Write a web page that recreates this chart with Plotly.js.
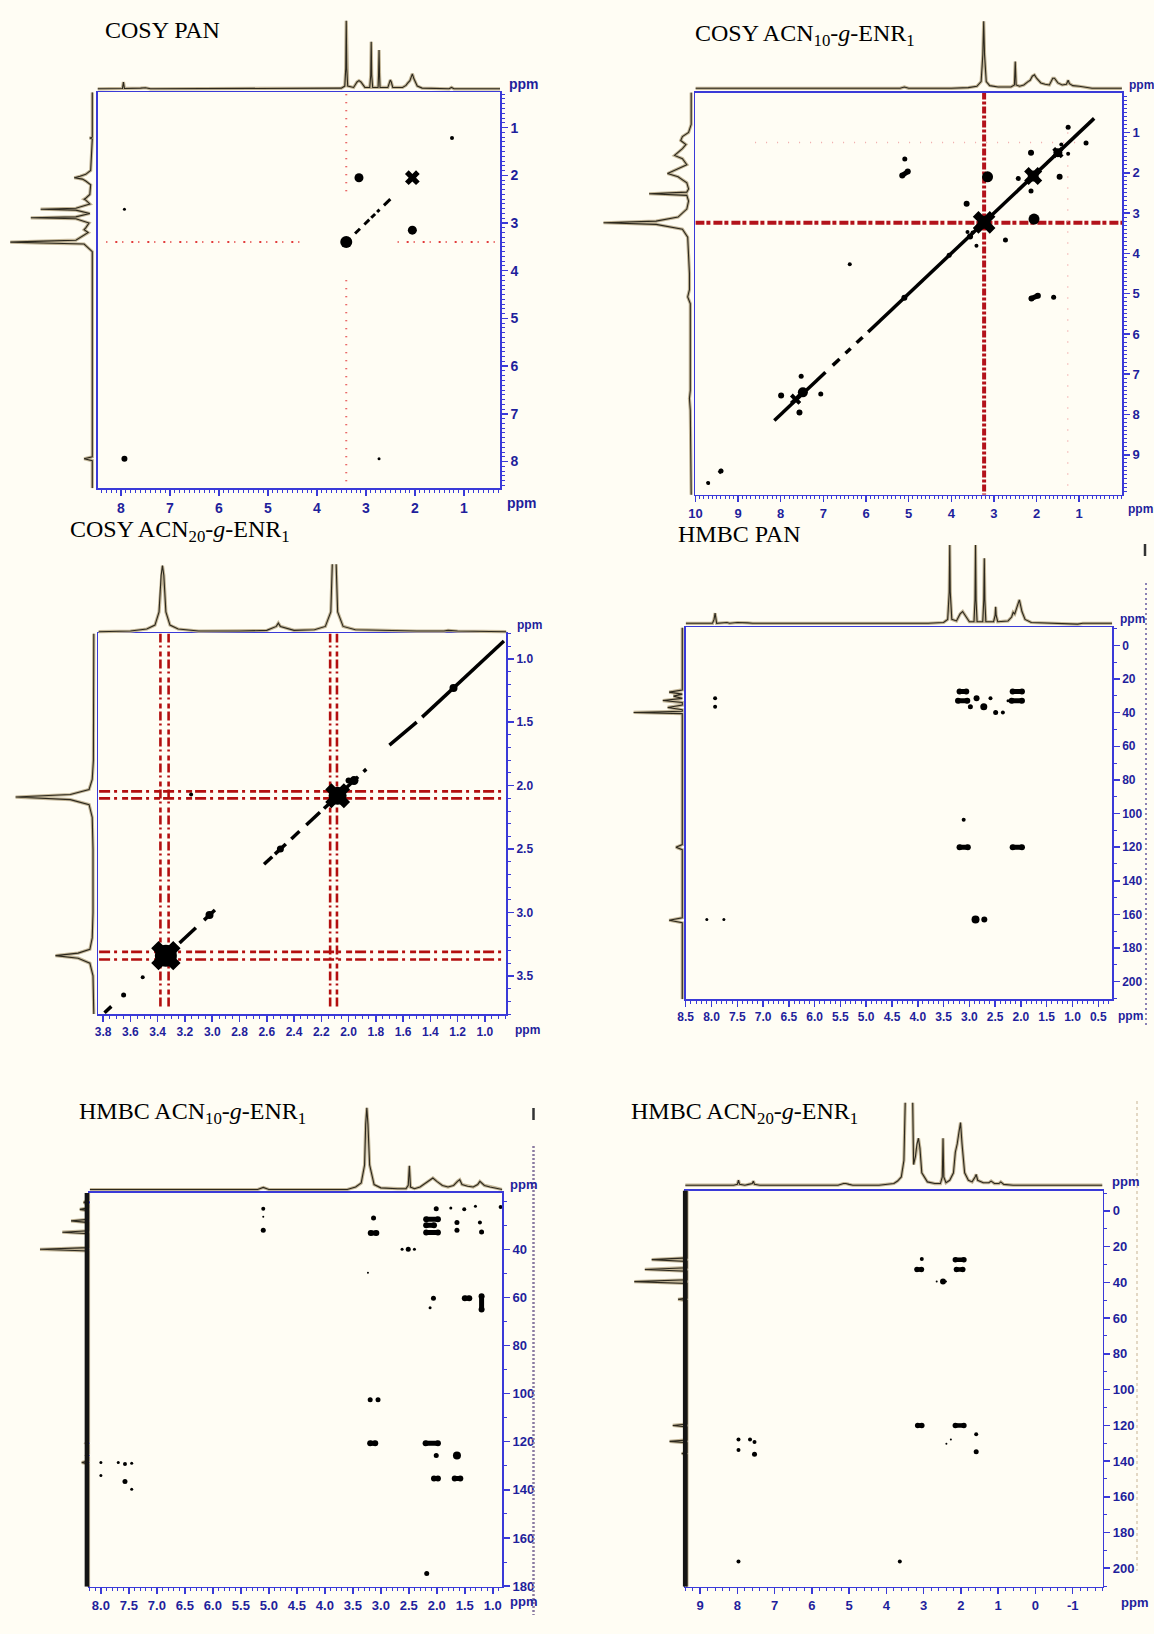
<!DOCTYPE html>
<html><head><meta charset="utf-8">
<script src="https://cdn.plot.ly/plotly-3.0.1.min.js"></script>
<style>html,body{margin:0;padding:0;background:#fffdf4;} #chart{width:1154px;height:1634px;}</style>
</head><body><div id="chart"></div>
<script>
// ---------------- DATA ----------------
const titles = ['COSY PAN', 'COSY ACN<sub>10</sub>-<i>g</i>-ENR<sub>1</sub>', 'COSY ACN<sub>20</sub>-<i>g</i>-ENR<sub>1</sub>',
  'HMBC PAN', 'HMBC ACN<sub>10</sub>-<i>g</i>-ENR<sub>1</sub>', 'HMBC ACN<sub>20</sub>-<i>g</i>-ENR<sub>1</sub>'];

// Tick labels
const p1XTicks = [8, 7, 6, 5, 4, 3, 2, 1];
const p1YTicks = [1, 2, 3, 4, 5, 6, 7, 8];
const p2XTicks = [10, 9, 8, 7, 6, 5, 4, 3, 2, 1];
const p2YTicks = [1, 2, 3, 4, 5, 6, 7, 8, 9];
const p3XTicks = [3.8, 3.6, 3.4, 3.2, 3.0, 2.8, 2.6, 2.4, 2.2, 2.0, 1.8, 1.6, 1.4, 1.2, 1.0];
const p3YTicks = [1.0, 1.5, 2.0, 2.5, 3.0, 3.5];
const p4XTicks = [8.5, 8.0, 7.5, 7.0, 6.5, 6.0, 5.5, 5.0, 4.5, 4.0, 3.5, 3.0, 2.5, 2.0, 1.5, 1.0, 0.5];
const p4YTicks = [0, 20, 40, 60, 80, 100, 120, 140, 160, 180, 200];
const p5XTicks = [8.0, 7.5, 7.0, 6.5, 6.0, 5.5, 5.0, 4.5, 4.0, 3.5, 3.0, 2.5, 2.0, 1.5, 1.0];
const p5YTicks = [40, 60, 80, 100, 120, 140, 160, 180];
const p6XTicks = [9, 8, 7, 6, 5, 4, 3, 2, 1, 0, -1];
const p6YTicks = [0, 20, 40, 60, 80, 100, 120, 140, 160, 180, 200];

// ---- Panel 1: COSY PAN ----
const p1TopPpm = [8.48, 8.0, 7.97, 7.95, 7.93, 7.6, 7.5, 7.4, 3.8, 3.5, 3.43, 3.41, 3.40, 3.39, 3.37, 3.25, 3.18, 3.14, 3.10, 3.02, 2.92, 2.90, 2.89, 2.88, 2.86, 2.75, 2.74, 2.73, 2.72, 2.71, 2.55, 2.52, 2.50, 2.48, 2.45, 2.25, 2.18, 2.15, 2.10, 2.05, 2.02, 1.95, 1.85, 1.30, 1.25, 1.20, 0.26];
const p1TopInt = [0, 0, 0.005, 0.1, 0.005, 0.01, 0.015, 0, 0, 0.01, 0.04, 0.3, 1.0, 0.3, 0.04, 0.02, 0.1, 0.12, 0.1, 0.02, 0.02, 0.2, 0.69, 0.2, 0.02, 0.02, 0.2, 0.57, 0.2, 0.02, 0.02, 0.1, 0.13, 0.1, 0.02, 0.02, 0.05, 0.08, 0.12, 0.22, 0.15, 0.04, 0.01, 0, 0.02, 0, 0];
const p1LeftPpm = [0.26, 1.2, 1.22, 1.24, 1.9, 1.98, 2.02, 2.05, 2.08, 2.12, 2.2, 2.4, 2.48, 2.50, 2.52, 2.6, 2.69, 2.71, 2.73, 2.8, 2.87, 2.89, 2.91, 3.0, 3.1, 3.14, 3.2, 3.36, 3.38, 3.40, 3.42, 3.44, 3.6, 7.9, 7.94, 7.98, 8.56];
const p1LeftInt = [0, 0, 0.03, 0, 0.02, 0.08, 0.15, 0.22, 0.12, 0.08, 0.02, 0.03, 0.08, 0.1, 0.08, 0.03, 0.2, 0.63, 0.2, 0.03, 0.2, 0.75, 0.2, 0.04, 0.08, 0.1, 0.05, 0.2, 0.6, 1.0, 0.6, 0.1, 0, 0, 0.1, 0, 0];
const p1PeakX = [3.14, 2.05, 3.40, 1.24, 7.93, 7.93, 2.73];
const p1PeakY = [2.05, 3.15, 3.40, 1.22, 2.71, 7.94, 7.94];
const p1PeakS = [9, 9, 12, 4, 3, 6, 3];
const p1CrossX = [2.05];
const p1CrossY = [2.05];
const p1CrossS = [13];
const p1DiagX = [3.22, 3.12, null, 3.03, 2.93, null, 2.89, 2.81, null, 2.77, 2.72, null, 2.63, 2.50];
const p1DiagY = [3.22, 3.12, null, 3.03, 2.93, null, 2.89, 2.81, null, 2.77, 2.72, null, 2.63, 2.50];
const p1BarX = [];
const p1BarY = [];
const p1NoiseVX = [3.40, 3.40, null, 3.40, 3.40];
const p1NoiseVY = [0.3, 2.45, null, 4.2, 8.56];
const p1NoiseHX = [8.3, 4.35, null, 2.35, 0.3];
const p1NoiseHY = [3.40, 3.40, null, 3.40, 3.40];

// ---- Panel 2: COSY ACN10-g-ENR1 ----
const p2TopPpm = [10, 8.0, 7.6, 7.5, 5.2, 5.1, 5.0, 4.0, 3.6, 3.4, 3.3, 3.26, 3.24, 3.22, 3.18, 3.1, 2.9, 2.6, 2.52, 2.50, 2.48, 2.4, 2.3, 2.2, 2.15, 2.1, 2.05, 2.0, 1.9, 1.8, 1.7, 1.62, 1.58, 1.5, 1.4, 1.3, 1.26, 1.23, 1.15, 1.0, 0.9, 0.85, 0.7, 0];
const p2TopInt = [0, 0, 0.005, 0, 0, 0.02, 0, 0, 0.01, 0.03, 0.1, 0.5, 1.0, 0.5, 0.1, 0.04, 0.02, 0.02, 0.05, 0.4, 0.05, 0.03, 0.05, 0.1, 0.12, 0.18, 0.2, 0.15, 0.08, 0.06, 0.05, 0.15, 0.15, 0.08, 0.05, 0.06, 0.12, 0.07, 0.04, 0.03, 0.02, 0.01, 0, 0];
const p2LeftPpm = [0, 0.8, 1.0, 1.1, 1.2, 1.3, 1.4, 1.5, 1.57, 1.65, 1.8, 1.95, 2.02, 2.1, 2.25, 2.4, 2.48, 2.52, 2.56, 2.7, 2.9, 3.1, 3.2, 3.24, 3.28, 3.4, 3.6, 4.5, 4.9, 5.08, 5.25, 7.4, 7.6, 7.9, 10];
const p2LeftInt = [0, 0, 0.03, 0.1, 0.12, 0.06, 0.1, 0.15, 0.19, 0.1, 0.05, 0.2, 0.27, 0.15, 0.05, 0.03, 0.05, 0.48, 0.05, 0.03, 0.05, 0.15, 0.4, 1.0, 0.4, 0.1, 0.04, 0.02, 0.02, 0.04, 0.01, 0.01, 0.02, 0.01, 0];
const p2PeakX = [5.09, 3.15, 2.06, 2.13, 1.46, 2.13, 2.43, 1.26, 0.84, 3.64, 2.73, 1.60, 7.99, 7.56, 7.52, 7.06, 6.38, 3.41, 3.50, 3.62, 4.05, 3.23, 2.08, 1.50, 7.48, 5.10, 1.26, 9.40, 9.70, 1.42, 3.56];
const p2PeakY = [1.66, 2.10, 3.15, 1.50, 2.10, 2.45, 2.14, 0.87, 1.26, 2.77, 3.67, 5.09, 7.53, 7.95, 7.05, 7.49, 4.27, 3.81, 3.48, 3.47, 4.05, 3.23, 2.08, 1.50, 7.45, 5.10, 1.53, 9.40, 9.70, 1.30, 3.58];
const p2PeakS = [5, 11, 11, 6, 6, 5, 5, 5, 5, 6, 5, 5, 6, 6, 5, 5, 4, 4, 4, 4, 5, 13, 11, 9, 10, 6, 4, 5, 4, 4, 6];
const p2CrossX = [3.23, 2.08, 7.65, 1.50];
const p2CrossY = [3.23, 2.08, 7.62, 1.50];
const p2CrossS = [20, 16, 10, 10];
const p2DiagX = [9.72, 9.69, null, 9.45, 9.37, null, 8.15, 6.95, null, 6.78, 6.62, null, 6.48, 6.36, null, 6.22, 6.08, null, 5.95, 0.65];
const p2DiagY = [9.72, 9.69, null, 9.45, 9.37, null, 8.15, 6.95, null, 6.78, 6.62, null, 6.48, 6.36, null, 6.22, 6.08, null, 5.95, 0.65];
const p2BarX = [5.15, 5.02, null, 2.12, 1.97];
const p2BarY = [2.07, 1.97, null, 5.12, 5.05];
const p2NoiseVX = [3.23, 3.23];
const p2NoiseVY = [0.01, 9.99];
const p2NoiseHX = [10, -0.01];
const p2NoiseHY = [3.24, 3.24];
const p2FaintX = [8.6, 1.0, null, 1.27, 1.27];
const p2FaintY = [1.25, 1.25, null, 1.0, 9.9];

// ---- Panel 3: COSY ACN20-g-ENR1 ----
const p3TopPpm = [3.835, 3.6, 3.48, 3.42, 3.39, 3.375, 3.365, 3.355, 3.34, 3.31, 3.25, 3.1, 2.8, 2.6, 2.53, 2.515, 2.50, 2.4, 2.25, 2.17, 2.13, 2.115, 2.105, 2.095, 2.08, 2.04, 1.95, 1.8, 1.5, 1.3, 1.27, 1.2, 0.842];
const p3TopInt = [0, 0.01, 0.04, 0.1, 0.3, 0.85, 1.0, 0.85, 0.3, 0.1, 0.04, 0.01, 0.01, 0.02, 0.08, 0.13, 0.08, 0.02, 0.03, 0.08, 0.3, 1.3, 1.5, 1.3, 0.3, 0.08, 0.03, 0.02, 0.01, 0.01, 0.02, 0.01, 0];
const p3LeftPpm = [0.80, 1.8, 1.95, 2.03, 2.07, 2.09, 2.11, 2.15, 2.25, 2.5, 3.0, 3.2, 3.29, 3.32, 3.34, 3.36, 3.40, 3.5, 3.80];
const p3LeftInt = [0, 0.005, 0.02, 0.06, 0.3, 1.0, 0.3, 0.06, 0.02, 0.01, 0.01, 0.02, 0.05, 0.2, 0.49, 0.2, 0.05, 0.01, 0];
const p3PeakX = [3.34, 2.08, 1.23, 3.65, 3.51, 1.96, 2.50, 3.155, 3.02, 2.0];
const p3PeakY = [3.34, 2.08, 1.23, 3.65, 3.51, 1.96, 2.50, 2.07, 3.02, 1.96];
const p3PeakS = [22, 18, 8, 5, 4, 9, 7, 4, 8, 6];
const p3CrossX = [3.34, 2.08];
const p3CrossY = [3.34, 2.08];
const p3CrossS = [26, 22];
const p3DiagX = [3.79, 3.74, null, 3.24, 3.12, null, 3.06, 2.98, null, 2.62, 2.56, null, 2.54, 2.46, null, 2.42, 2.36, null, 2.31, 2.21, null, 2.18, 1.93, null, 1.89, 1.87, null, 1.70, 1.50, null, 1.46, 0.86];
const p3DiagY = [3.79, 3.74, null, 3.24, 3.12, null, 3.06, 2.98, null, 2.62, 2.56, null, 2.54, 2.46, null, 2.42, 2.36, null, 2.31, 2.21, null, 2.18, 1.93, null, 1.89, 1.87, null, 1.68, 1.50, null, 1.46, 0.86];
const p3BarX = [];
const p3BarY = [];
const p3NoiseVX = [3.38, 3.38, null, 3.32, 3.32, null, 2.135, 2.135, null, 2.085, 2.085];
const p3NoiseVY = [0.80, 3.75, null, 0.80, 3.75, null, 0.80, 3.75, null, 0.80, 3.75];
const p3NoiseHX = [3.83, 0.85, null, 3.83, 0.85, null, 3.83, 0.85, null, 3.83, 0.85];
const p3NoiseHY = [2.045, 2.045, null, 2.10, 2.10, null, 3.31, 3.31, null, 3.37, 3.37];

// ---- Panel 4: HMBC PAN ----
const p4TopPpm = [8.5, 7.98, 7.95, 7.93, 7.9, 7.7, 7.65, 7.5, 7.3, 7.2, 3.8, 3.5, 3.42, 3.39, 3.38, 3.37, 3.34, 3.25, 3.18, 3.13, 3.08, 3.0, 2.91, 2.89, 2.88, 2.87, 2.85, 2.74, 2.72, 2.71, 2.70, 2.68, 2.53, 2.50, 2.49, 2.48, 2.45, 2.25, 2.18, 2.15, 2.12, 2.08, 2.03, 1.98, 1.92, 1.8, 1.2, 1.0, 0.9, 0.8, 0.23];
const p4TopInt = [0, 0, 0.05, 0.13, 0, 0.01, 0, 0.01, 0.005, 0, 0, 0.01, 0.05, 0.4, 1.0, 0.4, 0.05, 0.03, 0.12, 0.15, 0.1, 0.02, 0.02, 0.3, 1.0, 0.3, 0.02, 0.02, 0.3, 0.83, 0.3, 0.02, 0.02, 0.1, 0.21, 0.1, 0.02, 0.03, 0.08, 0.14, 0.12, 0.2, 0.3, 0.15, 0.05, 0.01, 0, -0.01, -0.01, 0, 0];
const p4LeftPpm = [-10.7, 26.5, 27.8, 29, 30.2, 31.5, 32.8, 34, 35.5, 36.9, 38.3, 39.2, 39.9, 40.6, 42, 118.5, 120, 121.5, 162, 163.5, 165, 210.5];
const p4LeftInt = [0, 0, 0.27, 0, 0.18, 0, 0.4, 0, 0, 0.3, 0, 0, 1.0, 0, 0, 0, 0.13, 0, 0, 0.27, 0, 0];
const p4PeakX = [2.86, 2.98, 2.72, 2.59, 2.49, 2.35, 2.25, 7.93, 7.93, 3.11, 8.09, 7.76, 2.88, 2.71];
const p4PeakY = [31.4, 36.5, 36.5, 31.4, 39.9, 39.9, 33.0, 31.4, 36.5, 103.7, 163, 163, 163, 163];
const p4PeakS = [6, 5, 7, 4, 5, 4, 3, 4, 4, 4, 3, 3, 8, 6];
const p4CrossX = [];
const p4CrossY = [];
const p4CrossS = [];
const p4DiagX = [];
const p4DiagY = [];
const p4BarX = [3.19, 3.06, null, 3.22, 3.04, null, 2.16, 1.98, null, 2.18, 1.98, null, 3.19, 3.03, null, 2.16, 1.98];
const p4BarY = [27.4, 27.4, null, 33.0, 33.0, null, 27.4, 27.4, null, 33.0, 33.0, null, 120, 120, null, 120, 120];

// ---- Panel 5: HMBC ACN10-g-ENR1 ----
const p5TopPpm = [8.2, 7.9, 7.5, 5.2, 5.1, 5.0, 3.6, 3.45, 3.35, 3.29, 3.27, 3.25, 3.23, 3.2, 3.12, 3.0, 2.7, 2.55, 2.51, 2.49, 2.47, 2.4, 2.3, 2.2, 2.12, 2.07, 2.0, 1.9, 1.8, 1.7, 1.63, 1.59, 1.55, 1.45, 1.35, 1.27, 1.23, 1.15, 1.05, 0.95, 0.83];
const p5TopInt = [0, 0, 0.005, 0, 0.025, 0, 0, 0.03, 0.08, 0.3, 0.8, 1.0, 0.8, 0.3, 0.06, 0.02, 0.01, 0.01, 0.05, 0.29, 0.03, 0.01, 0.03, 0.08, 0.11, 0.14, 0.1, 0.05, 0.03, 0.05, 0.1, 0.12, 0.06, 0.04, 0.03, 0.06, 0.1, 0.05, 0.03, 0.02, 0];
const p5LeftPpm = [16.6, 19.5, 20.5, 21.5, 22.8, 23.4, 24, 27.5, 28.2, 28.9, 32.3, 32.9, 33.5, 39.3, 40, 40.7, 119.9, 120.6, 121.3, 125, 125.7, 126.4, 127.9, 128.6, 129.3, 180.3];
const p5LeftInt = [0, 0, 0.1, 0, 0, 0.18, 0, 0, 0.36, 0, 0, 0.54, 0, 0, 1.0, 0, 0, 0.05, 0, 0, 0.04, 0, 0, 0.14, 0, 0];
const p5PeakX = [5.10, 5.10, 3.13, 2.51, 2.62, 2.40, 3.23, 2.01, 1.75, 1.51, 1.31, 1.64, 1.64, 1.23, 1.20, 2.06, 2.12, 0.86, 3.19, 3.05, 2.01, 1.64, 8.00, 7.69, 7.57, 7.45, 8.00, 7.57, 7.45, 2.18, 5.10];
const p5PeakY = [23.1, 32.1, 27.0, 40.0, 40.0, 40.0, 49.8, 23.1, 22.8, 23.4, 22.1, 28.9, 32.1, 28.9, 32.8, 60.4, 64.3, 22.4, 102.5, 102.5, 125.7, 125.7, 128.6, 128.6, 129.3, 128.9, 134.0, 136.5, 139.7, 174.8, 26.5];
const p5PeakS = [4, 5, 5, 5, 3, 3, 2, 5, 3, 4, 3, 5, 5, 4, 5, 5, 3, 4, 5, 5, 5, 8, 3, 3, 4, 3, 3, 5, 3, 5, 2];
const p5CrossX = [];
const p5CrossY = [];
const p5CrossS = [];
const p5DiagX = [];
const p5DiagY = [];
const p5BarX = [3.18, 3.08, null, 2.19, 1.98, null, 2.19, 2.05, null, 2.19, 1.98, null, 1.50, 1.42, null, 1.20, 1.20, null, 3.19, 3.10, null, 2.20, 1.98, null, 2.05, 1.98, null, 1.68, 1.58];
const p5BarY = [33.2, 33.2, null, 27.5, 27.5, null, 30.0, 30.0, null, 33.0, 33.0, null, 60.4, 60.4, null, 59.5, 65.0, null, 120.6, 120.6, null, 120.6, 120.6, null, 135.3, 135.3, null, 135.3, 135.3];

// ---- Panel 6: HMBC ACN20-g-ENR1 ----
const p6TopPpm = [9.4, 8.1, 8.0, 7.97, 7.94, 7.8, 7.7, 7.6, 7.57, 7.54, 7.4, 5.3, 5.15, 5.09, 5.0, 4.9, 4.2, 3.95, 3.8, 3.7, 3.6, 3.53, 3.49, 3.47, 3.44, 3.40, 3.35, 3.33, 3.31, 3.27, 3.22, 3.18, 3.14, 3.10, 3.05, 2.9, 2.7, 2.55, 2.5, 2.48, 2.46, 2.4, 2.3, 2.2, 2.15, 2.1, 2.05, 2.01, 1.97, 1.9, 1.8, 1.7, 1.62, 1.59, 1.55, 1.4, 1.25, 1.19, 1.1, 0.98, 0.93, 0.85, 0.6, -0.5, -1.8];
const p6TopInt = [0, 0, 0.01, 0.06, 0.01, 0, 0.01, 0.02, 0.05, 0.01, 0, 0, 0.02, 0.02, 0.01, 0, 0, 0.01, 0.02, 0.05, 0.1, 0.3, 1.2, 1.5, 1.5, 1.2, 1.5, 2.0, 1.5, 0.25, 0.35, 0.5, 0.57, 0.45, 0.15, 0.04, 0.02, 0.02, 0.1, 0.57, 0.1, 0.03, 0.06, 0.15, 0.4, 0.5, 0.65, 0.76, 0.5, 0.15, 0.06, 0.04, 0.1, 0.13, 0.06, 0.03, 0.03, 0.05, 0.02, 0.02, 0.04, 0.01, 0, 0, 0];
const p6LeftPpm = [-11.4, 26.3, 27.3, 28.3, 31.8, 32.8, 33.8, 38.6, 39.6, 40.6, 48.8, 49.5, 50.2, 119.3, 120.1, 120.9, 128.2, 129, 129.8, 135.2, 135.8, 136.4, 210.4];
const p6LeftInt = [0, 0, 0.67, 0, 0, 0.8, 0, 0, 1.0, 0, 0, 0.17, 0, 0, 0.27, 0, 0, 0.33, 0, 0, 0.1, 0, 0];
const p6PeakX = [3.05, 2.48, 2.65, 2.40, 1.59, 1.59, 2.27, 2.39, 7.97, 7.66, 7.54, 7.97, 7.54, 7.97, 3.64];
const p6PeakY = [26.9, 39.6, 39.6, 39.6, 125, 134.8, 128, 130.3, 128, 128, 129.3, 133.9, 136.2, 196.3, 196.3];
const p6PeakS = [4, 6, 2, 2, 4, 5, 2, 2, 4, 4, 4, 4, 5, 4, 4];
const p6CrossX = [];
const p6CrossY = [];
const p6CrossS = [];
const p6DiagX = [];
const p6DiagY = [];
const p6BarX = [3.18, 3.06, null, 2.15, 1.92, null, 2.12, 1.95, null, 3.16, 3.05, null, 2.15, 1.92];
const p6BarY = [32.8, 32.8, null, 27.3, 27.3, null, 32.8, 32.8, null, 120.1, 120.1, null, 120.1, 120.1];

// ---------------- LAYOUT / STYLE ----------------
const W = 1154, H = 1634;
const BLUE = '#3a3ad8', LBL = '#1f1f9c', BG = '#fffdf4', TAN = '#c2b597', DARK = '#2c281d';

const panels = [
  {frame: [97.5, 92.3, 500, 488.3], xr: [8.48, 0.26], yr: [8.56, 0.26], topBase: 88.8, topPeak: 20.7, topMax: 1.03,
   leftBase: 92.3, leftPeak: 10.3, title: [102.6, 30.3], ppmTop: [507, 83.7], ppmBot: [505, 502.7], fs: 14, ppmFs: 14,
   xt: p1XTicks, yt: p1YTicks, dec: 0, xminor: 0.1, yminor: 0.1,
   top: [p1TopPpm, p1TopInt], left: [p1LeftPpm, p1LeftInt], peaks: [p1PeakX, p1PeakY, p1PeakS],
   cross: [p1CrossX, p1CrossY, p1CrossS], diag: [p1DiagX, p1DiagY], diagW: 3, bars: [p1BarX, p1BarY], barW: 6},
  {frame: [695.4, 92.6, 1122.3, 494.7], xr: [10, -0.01], yr: [9.99, 0.01], topBase: 88.3, topPeak: 21.2, topMax: 1.03,
   leftBase: 691.2, leftPeak: 603.5, title: [692.6, 35.3], ppmTop: [1127, 84.8], ppmBot: [1126, 508.8], fs: 13, ppmFs: 12,
   xt: p2XTicks, yt: p2YTicks, dec: 0, xminor: 0.1, yminor: 0.1,
   top: [p2TopPpm, p2TopInt], left: [p2LeftPpm, p2LeftInt], peaks: [p2PeakX, p2PeakY, p2PeakS],
   cross: [p2CrossX, p2CrossY, p2CrossS], diag: [p2DiagX, p2DiagY], diagW: 3.5, bars: [p2BarX, p2BarY], barW: 5},
  {frame: [98.4, 633.4, 506.4, 1014], xr: [3.835, 0.842], yr: [3.80, 0.80], topBase: 631.7, topPeak: 565.6, topMax: 1.02,
   leftBase: 93.8, leftPeak: 15.6, title: [67.8, 530.9], ppmTop: [515, 624.7], ppmBot: [513, 1029.6], fs: 12, ppmFs: 12,
   xt: p3XTicks, yt: p3YTicks, dec: 1, xminor: 0.05, yminor: 0.1,
   top: [p3TopPpm, p3TopInt], left: [p3LeftPpm, p3LeftInt], peaks: [p3PeakX, p3PeakY, p3PeakS],
   cross: [p3CrossX, p3CrossY, p3CrossS], diag: [p3DiagX, p3DiagY], diagW: 3.5, bars: [p3BarX, p3BarY], barW: 6},
  {frame: [685.7, 627.4, 1112.2, 999.3], xr: [8.5, 0.23], yr: [210.5, -10.7], topBase: 623.3, topPeak: 545, topMax: 1.03,
   leftBase: 682.3, leftPeak: 633.6, title: [676.2, 533.7], ppmTop: [1118, 618.9], ppmBot: [1116, 1015.7], fs: 12, ppmFs: 12,
   xt: p4XTicks, yt: p4YTicks, dec: 1, ydec: 0, xminor: 0.1, yminor: 10,
   top: [p4TopPpm, p4TopInt], left: [p4LeftPpm, p4LeftInt], peaks: [p4PeakX, p4PeakY, p4PeakS],
   cross: [p4CrossX, p4CrossY, p4CrossS], diag: [p4DiagX, p4DiagY], diagW: 3, bars: [p4BarX, p4BarY], barW: 5},
  {frame: [89.7, 1193, 502.3, 1586.8], xr: [8.2, 0.83], yr: [180.3, 16.6], topBase: 1189.5, topPeak: 1107.8, topMax: 1.03,
   leftBase: 88.6, leftPeak: 40, title: [76.5, 1113], ppmTop: [508, 1184], ppmBot: [508, 1601], fs: 13, ppmFs: 13,
   xt: p5XTicks, yt: p5YTicks, dec: 1, ydec: 0, xminor: 0.1, yminor: 10, stripe: true,
   top: [p5TopPpm, p5TopInt], left: [p5LeftPpm, p5LeftInt], peaks: [p5PeakX, p5PeakY, p5PeakS],
   cross: [p5CrossX, p5CrossY, p5CrossS], diag: [p5DiagX, p5DiagY], diagW: 3, bars: [p5BarX, p5BarY], barW: 5},
  {frame: [685.2, 1190.5, 1102.5, 1586.8], xr: [9.40, -1.80], yr: [210.4, -11.4], topBase: 1185.2, topPeak: 1102.8, topMax: 1.0,
   leftBase: 687, leftPeak: 634.3, title: [629, 1113.3], ppmTop: [1110, 1181.7], ppmBot: [1119, 1602.6], fs: 13, ppmFs: 13,
   xt: p6XTicks, yt: p6YTicks, dec: 0, ydec: 0, xminor: 0.2, yminor: 10, stripe: true,
   top: [p6TopPpm, p6TopInt], left: [p6LeftPpm, p6LeftInt], peaks: [p6PeakX, p6PeakY, p6PeakS],
   cross: [p6CrossX, p6CrossY, p6CrossS], diag: [p6DiagX, p6DiagY], diagW: 3, bars: [p6BarX, p6BarY], barW: 4.5}
];

// noise (t1 ridges) per panel
const noise = [
  {v: [p1NoiseVX, p1NoiseVY], h: [p1NoiseHX, p1NoiseHY], color: '#e23a3a', width: 2, dashV: '1px,7px', dashH: '1px,8px,2px,5px'},
  {v: [p2NoiseVX, p2NoiseVY], h: [p2NoiseHX, p2NoiseHY], color: '#b3121a', width: 4, dashV: '7px,2px,3px,2px', dashH: '9px,2px,4px,3px'},
  {v: [p3NoiseVX, p3NoiseVY], h: [p3NoiseHX, p3NoiseHY], color: '#b30f0f', width: 2.6, dashV: '9px,3px,2px,4px,5px,3px', dashH: '11px,4px,3px,5px,6px,3px'}
];

function dX(a, b) { return [Math.max(0, a / W), Math.min(1, b / W)]; }
function dY(t, b) { return [Math.max(0, 1 - b / H), Math.min(1, 1 - t / H)]; }
const id = n => (n === 1 ? '' : String(n));
const bold = s => '<b>' + s + '</b>';

const data = [];
const layout = {
  width: W, height: H, margin: {l: 0, r: 0, t: 0, b: 0},
  paper_bgcolor: BG, plot_bgcolor: 'rgba(0,0,0,0)', showlegend: false, hovermode: false,
  annotations: [], shapes: []
};

panels.forEach((P, k) => {
  const m = 3 * k + 1, t = 3 * k + 2, l = 3 * k + 3;
  const [fx0, fy0, fx1, fy1] = P.frame;
  const tickFont = {family: 'Liberation Sans, Arial, sans-serif', size: P.fs, color: LBL};
  const ppmFont = {family: 'Liberation Sans, Arial, sans-serif', size: P.ppmFs, color: LBL};
  const ydec = (P.ydec !== undefined) ? P.ydec : P.dec;
  // main axes
  layout['xaxis' + id(m)] = {
    domain: dX(fx0, fx1), range: P.xr, anchor: 'y' + id(m), side: 'bottom',
    showline: true, linecolor: BLUE, linewidth: 1.6, mirror: true, showgrid: false, zeroline: false,
    ticks: 'outside', ticklen: 6, tickwidth: 1.5, tickcolor: BLUE,
    tickmode: 'array', tickvals: P.xt, ticktext: P.xt.map(v => bold(v.toFixed(P.dec))), tickfont: tickFont,
    minor: {ticks: 'outside', ticklen: 3, tickwidth: 1, tickcolor: BLUE, dtick: P.xminor, tick0: 0, showgrid: false}
  };
  layout['yaxis' + id(m)] = {
    domain: dY(fy0, fy1), range: P.yr, anchor: 'x' + id(m), side: 'right',
    showline: true, linecolor: BLUE, linewidth: 1.6, mirror: true, showgrid: false, zeroline: false,
    ticks: 'outside', ticklen: 6, tickwidth: 1.5, tickcolor: BLUE,
    tickmode: 'array', tickvals: P.yt, ticktext: P.yt.map(v => bold(v.toFixed(ydec))), tickfont: tickFont,
    minor: {ticks: 'outside', ticklen: 3, tickwidth: 1, tickcolor: BLUE, dtick: P.yminor, tick0: 0, showgrid: false}
  };
  // top projection
  const ts = P.topBase - P.topPeak;
  layout['xaxis' + id(t)] = {domain: dX(fx0, fx1), range: P.xr, anchor: 'y' + id(t), visible: false};
  layout['yaxis' + id(t)] = {domain: dY(P.topPeak - (P.topMax - 1) * ts, P.topBase + 0.04 * ts), range: [-0.04, P.topMax], anchor: 'x' + id(t), visible: false};
  // left projection
  const ls = P.leftBase - P.leftPeak;
  layout['xaxis' + id(l)] = {domain: dX(P.leftPeak - 0.03 * ls, P.leftBase + 0.04 * ls), range: [1.03, -0.04], anchor: 'y' + id(l), visible: false};
  layout['yaxis' + id(l)] = {domain: dY(fy0, fy1), range: P.yr, anchor: 'x' + id(l), visible: false};

  const xm = 'x' + id(m), ym = 'y' + id(m);
  // spectra (halo + core)
  [[TAN, 3.2], [DARK, 1.1]].forEach(([c, w]) => {
    data.push({type: 'scatter', mode: 'lines', x: P.top[0], y: P.top[1], xaxis: 'x' + id(t), yaxis: 'y' + id(t), line: {color: c, width: w}, hoverinfo: 'skip'});
    data.push({type: 'scatter', mode: 'lines', x: P.left[1], y: P.left[0], xaxis: 'x' + id(l), yaxis: 'y' + id(l), line: {color: c, width: w}, hoverinfo: 'skip'});
  });
  if (P.stripe) {
    data.push({type: 'scatter', mode: 'lines', x: [0.035, 0.035], y: [P.yr[0], P.yr[1]], xaxis: 'x' + id(l), yaxis: 'y' + id(l), line: {color: '#141414', width: 4.5}, hoverinfo: 'skip'});
  }
  // noise ridges
  if (noise[k]) {
    const N = noise[k];
    data.push({type: 'scatter', mode: 'lines', x: N.v[0], y: N.v[1], xaxis: xm, yaxis: ym, line: {color: N.color, width: N.width, dash: N.dashV}, hoverinfo: 'skip'});
    data.push({type: 'scatter', mode: 'lines', x: N.h[0], y: N.h[1], xaxis: xm, yaxis: ym, line: {color: N.color, width: N.width, dash: N.dashH}, hoverinfo: 'skip'});
  }
  if (k === 1) {
    data.push({type: 'scatter', mode: 'lines', x: p2FaintX, y: p2FaintY, xaxis: xm, yaxis: ym, line: {color: '#f0a8a8', width: 1.5, dash: '1px,10px'}, hoverinfo: 'skip'});
  }
  // diagonal
  if (P.diag[0].length) {
    data.push({type: 'scatter', mode: 'lines', x: P.diag[0], y: P.diag[1], xaxis: xm, yaxis: ym, line: {color: '#000', width: P.diagW}, hoverinfo: 'skip'});
  }
  // elongated cross-peaks (rounded ends via end markers)
  if (P.bars[0].length) {
    data.push({type: 'scatter', mode: 'lines+markers', x: P.bars[0], y: P.bars[1], xaxis: xm, yaxis: ym,
      line: {color: '#000', width: P.barW}, marker: {color: '#000', size: P.barW + 1, opacity: 1, line: {width: 0}}, hoverinfo: 'skip'});
  }
  // round cross-peaks
  data.push({type: 'scatter', mode: 'markers', x: P.peaks[0], y: P.peaks[1], xaxis: xm, yaxis: ym,
    marker: {color: '#000', size: P.peaks[2], opacity: 1, line: {width: 0}}, hoverinfo: 'skip'});
  if (P.cross[0].length) {
    data.push({type: 'scatter', mode: 'markers', x: P.cross[0], y: P.cross[1], xaxis: xm, yaxis: ym,
      marker: {color: '#000', size: P.cross[2], opacity: 1, symbol: 'x', line: {width: 0}}, hoverinfo: 'skip'});
  }
  // title + ppm labels
  layout.annotations.push({xref: 'paper', yref: 'paper', x: P.title[0] / W, y: 1 - P.title[1] / H, xanchor: 'left', yanchor: 'middle',
    text: titles[k], showarrow: false, font: {family: 'Liberation Serif, Times New Roman, serif', size: 24, color: '#000'}});
  [P.ppmTop, P.ppmBot].forEach(p => layout.annotations.push({xref: 'paper', yref: 'paper', x: p[0] / W, y: 1 - p[1] / H,
    xanchor: 'left', yanchor: 'middle', text: bold('ppm'), showarrow: false, font: ppmFont}));
});

// right-edge artefacts of the scanned spectra
layout.shapes.push(
  {type: 'line', xref: 'paper', yref: 'paper', x0: 1145 / W, x1: 1145 / W, y0: 1 - 544 / H, y1: 1 - 556 / H, line: {color: '#333', width: 2.5}},
  {type: 'line', xref: 'paper', yref: 'paper', x0: 1146 / W, x1: 1146 / W, y0: 1 - 583 / H, y1: 1 - 1026 / H, line: {color: '#8b82b5', width: 2, dash: '2px,3px'}},
  {type: 'line', xref: 'paper', yref: 'paper', x0: 533.5 / W, x1: 533.5 / W, y0: 1 - 1108 / H, y1: 1 - 1120 / H, line: {color: '#333', width: 2.5}},
  {type: 'line', xref: 'paper', yref: 'paper', x0: 533.5 / W, x1: 533.5 / W, y0: 1 - 1146 / H, y1: 1 - 1615 / H, line: {color: '#8a7aa0', width: 2.5, dash: '2px,2px'}},
  {type: 'line', xref: 'paper', yref: 'paper', x0: 1137 / W, x1: 1137 / W, y0: 1 - 1101 / H, y1: 1 - 1571 / H, line: {color: '#e3d8c4', width: 2, dash: '3px,3px'}}
);

Plotly.newPlot('chart', data, layout, {staticPlot: true, displayModeBar: false});
</script></body></html>
